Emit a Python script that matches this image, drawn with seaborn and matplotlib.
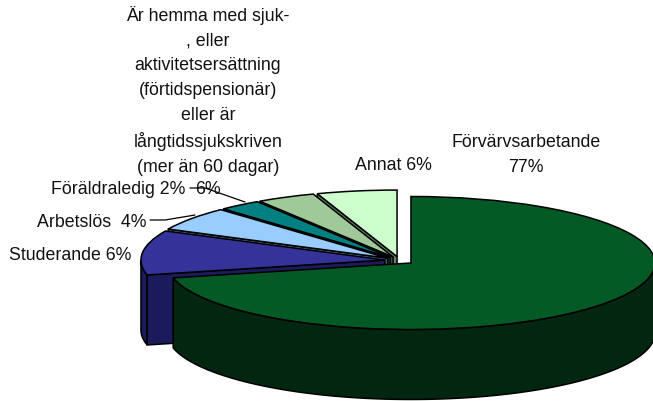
import numpy as np
import matplotlib
matplotlib.use("Agg")
import matplotlib.pyplot as plt
import seaborn as sns

sns.set_theme(style="white")
plt.rcParams['font.family'] = ['Liberation Sans', 'DejaVu Sans']

categories = ["Förvärvsarbetande", "Studerande", "Arbetslös", "Föräldraledig",
              "Är hemma med sjuk-, eller aktivitetsersättning", "Annat"]
# slice shares as drawn in the picture (3-D projection), in percent
shares = [71.4, 10.8, 5.8, 2.8, 3.9, 5.3]
top_colors = ["#035A25", "#333399", "#99CCFF", "#008080", "#A0C99A", "#CCFFCC"]
side_colors = ["#02260F", "#1B1B5C", "#4D6680", "#004040", "#506550", "#667F66"]

W, H = 653, 401
CX, CY, A, B = 399.5, 260.5, 244, 66.5
DEPTH = 70 / B
EXPLODE = 0.06

fig = plt.figure(figsize=(W / 100, H / 100), dpi=100)
ax = fig.add_axes([0, 0, 1, 1])
wedges, _ = ax.pie(shares, colors=top_colors, startangle=90, counterclock=False,
                   explode=[EXPLODE] * len(shares),
                   wedgeprops=dict(edgecolor="black", linewidth=1.1))
ax.set_aspect("auto")
ax.set_xlim(-CX / A, (W - CX) / A)
ax.set_ylim((CY - H) / B, CY / B)
ax.axis("off")

edges = np.concatenate([[0], np.cumsum(shares)]) / sum(shares) * 2 * np.pi


def rim(th):
    return np.sin(th), np.cos(th)


for i in range(len(shares)):
    s, e = edges[i], edges[i + 1]
    m = (s + e) / 2
    ox, oy = EXPLODE * np.sin(m), EXPLODE * np.cos(m)
    # paint back to front: small slices from Annat to Studerande, green last
    z = 2 * (len(shares) - i) if i > 0 else 2 * len(shares) + 2
    wedges[i].set_zorder(z + 1)
    # outer wall, front half of the ellipse only
    lo, hi = max(s, np.pi / 2), min(e, 3 * np.pi / 2)
    if hi > lo:
        t = np.linspace(lo, hi, 200)
        x, y = rim(t)
        px = np.concatenate([x, x[::-1]]) + ox
        py = np.concatenate([y, y[::-1] - DEPTH]) + oy
        ax.fill(px, py, facecolor=side_colors[i], edgecolor="black", lw=1.1, zorder=z)
    # cut face along the leading radial edge
    if i > 0:
        x, y = rim(s)
        ax.fill(np.array([0, x, x, 0]) + ox,
                np.array([0, y, y - DEPTH, -DEPTH]) + oy,
                facecolor=side_colors[i], edgecolor="black", lw=1.1, zorder=z)


def label(x, y, text, **kw):
    fig.text(x / W, 1 - y / H, text, fontsize=12.8, color="#111111",
             ha=kw.pop("ha", "center"), va=kw.pop("va", "center"), zorder=20, **kw)


label(208, 91,
      "Är hemma med sjuk-\n, eller\naktivitetsersättning\n(förtidspensionär)\n"
      "eller är\nlångtidssjukskriven\n(mer än 60 dagar)",
      linespacing=1.59)
label(208, 190, "6%")
label(526, 155, "Förvärvsarbetande\n77%", linespacing=1.59)
label(393.5, 165, "Annat 6%")
label(51, 189, "Föräldraledig 2%", ha="left")
label(37, 222, "Arbetslös  4%", ha="left")
label(9, 255.5, "Studerande 6%", ha="left")


def leader(xs, ys):
    ax.plot((np.array(xs) - CX) / A, (CY - np.array(ys)) / B, color="black", lw=0.9, zorder=30)


leader([190, 205, 245], [188, 188, 202])
leader([150, 165, 195], [220, 220, 215])

fig.savefig("out.png", dpi=100)
